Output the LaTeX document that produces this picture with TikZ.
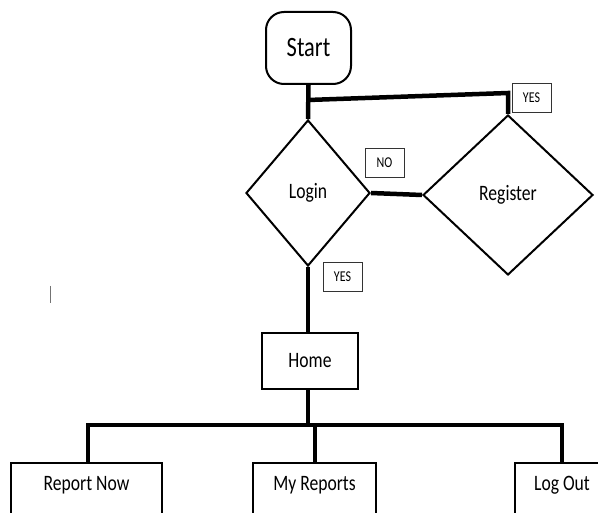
\documentclass[tikz,border=0pt]{standalone}
\usepackage{fontspec}
\setmainfont[FakeStretch=0.8]{Carlito}
\usetikzlibrary{shapes.geometric}
\tikzset{
  box/.style={draw=black, line width=2pt, fill=white, inner sep=0pt},
  startbox/.style={box, rounded corners=18pt, minimum width=85pt, minimum height=72pt, font=\fontsize{28}{28}\selectfont},
  decision/.style={draw=black, line width=2pt, diamond, inner sep=0pt, font=\fontsize{22}{22}\selectfont},
  menubox/.style={box, font=\fontsize{22}{22}\selectfont},
  bottombox/.style={box, anchor=north, inner ysep=0pt, text height=28pt, text depth=45pt, font=\fontsize{22}{22}\selectfont},
  tag/.style={draw=black!80, line width=0.9pt, fill=white, inner sep=0pt, minimum width=39pt, minimum height=29pt, font=\fontsize{15}{15}\selectfont},
  conn/.style={draw=black, line width=4.5pt},
}
\begin{document}
\begin{tikzpicture}[x=1pt,y=-1pt]
\clip (0,0) rectangle (598,513);
\fill[white] (0,0) rectangle (598,513);
% nodes
\node[startbox] (start) at (308.5,48) {Start};
\node[decision, minimum width=124pt, minimum height=146pt] (login) at (308,193) {Login};
\node[decision, minimum width=170pt, minimum height=160pt] (reg) at (508,195) {Register};
\node[menubox, minimum width=96pt, minimum height=56pt] (home) at (310,361) {Home};
\node[bottombox, minimum width=151pt] (rn) at (86.5,462) {Report Now};
\node[bottombox, minimum width=123pt] (mr) at (314.5,462) {My Reports};
\node[bottombox, minimum width=94pt] (lo) at (562,462) {Log Out};
% coordinates
\coordinate (j) at (308,100);
\coordinate (jr) at (508,93);
\coordinate (busL) at (88,425);
\coordinate (busM) at (315,425);
\coordinate (busR) at (562,425);
% connectors
\draw[conn] (start.south) -- (login.north);
\draw[conn] (j) -- (jr) -- (reg.north);
\draw[conn] (login.east) -- (reg.west);
\draw[conn] (login.south) -- (home.north -| login.south);
\draw[conn] (home.south -| 308,0) -- (308,425);
\draw[conn, line cap=rect] (busL) -- (busR);
\draw[conn] (busL) -- (busL |- rn.north);
\draw[conn] (busM) -- (busM |- mr.north);
\draw[conn] (busR) -- (busR |- lo.north);
% labels
\node[tag] (yes1) at (531.5,97.5) {YES};
\node[tag] (no) at (384.5,163) {NO};
\node[tag] (yes2) at (342.5,277) {YES};
% cursor mark
\draw[black!55, line width=1pt] (50.5,286) -- (50.5,303);
\end{tikzpicture}
\end{document}
